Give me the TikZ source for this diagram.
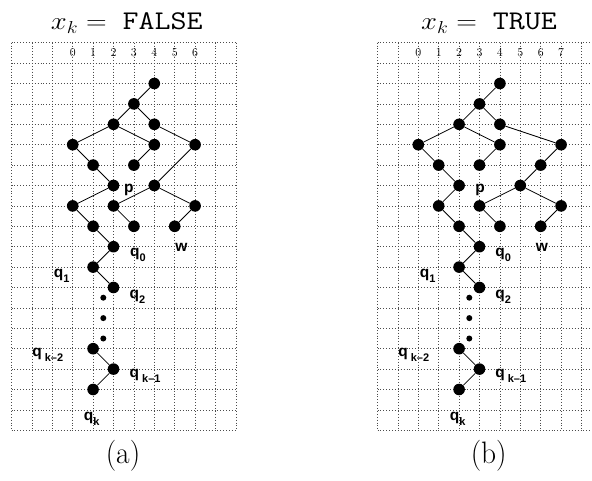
\documentclass[tikz,border=0pt]{standalone}
\usepackage{fontspec}
\newfontfamily\labfont{Liberation Sans}
\usetikzlibrary{calc}
\tikzset{
 vtx/.style={circle,fill=black,inner sep=0pt,minimum size=11.6pt},
 sdot/.style={circle,fill=black,inner sep=0pt,minimum size=6pt},
 conn/.style={line width=0.8pt},
 gridln/.style={line width=0.7pt, black!70, dash pattern=on 0.8pt off 2.1pt},
 lab/.style={inner sep=0pt, font=\labfont\bfseries\fontsize{15.5}{16}\selectfont},
 colnum/.style={inner sep=0pt, font=\fontsize{12}{12}\selectfont},
 ttl/.style={inner sep=0pt, anchor=base, font=\fontsize{27}{30}\selectfont},
 capt/.style={inner sep=0pt, anchor=base, font=\fontsize{31}{33}\selectfont},
}
\newcommand\sbs[1]{\raisebox{-5pt}{\fontsize{11}{11}\selectfont #1}}
\newcommand\lbl[4]{\node[lab,anchor=base west] at ($(#1)+(#2pt,-#3pt)$) {#4};}

\begin{document}
\begin{tikzpicture}[x=1pt,y=-1pt]
\path[use as bounding box] (0,0) rectangle (592,481);
\clip (0,0) rectangle (592,481);

% titles and captions
\node[ttl] (tA) at (126.7,29.3) {\scalebox{1.15}[1]{$x_k = \;\texttt{FALSE}$}};
\node[ttl] (tB) at (489,29.3) {\scalebox{1.15}[1]{$x_k = \;\texttt{TRUE}$}};
\node[capt] (cA) at (123,463.3) {\scalebox{0.95}[1]{(a)}};
\node[capt] (cB) at (488.7,463.3) {\scalebox{0.95}[1]{(b)}};

% ---------------- left panel
\begin{scope}[shift={(72.7pt,-42.7pt)}, x=20.4pt, y=-20.4pt]
\foreach \i in {-3,...,8} \draw[gridln] (\i,0) -- (\i,19);
\foreach \j in {0,...,19} \draw[gridln] (-3,\j) -- (8,\j);
\foreach \c in {0,...,6} \node[colnum] (Lc\c) at (\c,0.5) {\c};
\node[vtx] (L1) at (4,2) {};
\node[vtx] (L2) at (3,3) {};
\node[vtx] (L3) at (2,4) {};
\node[vtx] (L4) at (4,4) {};
\node[vtx] (L5) at (0,5) {};
\node[vtx] (L6) at (4,5) {};
\node[vtx] (L7) at (6,5) {};
\node[vtx] (L8) at (1,6) {};
\node[vtx] (L9) at (3,6) {};
\node[vtx] (Lp) at (2,7) {};
\node[vtx] (L11) at (4,7) {};
\node[vtx] (L12) at (0,8) {};
\node[vtx] (L13) at (2,8) {};
\node[vtx] (L14) at (6,8) {};
\node[vtx] (L15) at (1,9) {};
\node[vtx] (L16) at (3,9) {};
\node[vtx] (Lw) at (5,9) {};
\node[vtx] (Lq0) at (2,10) {};
\node[vtx] (Lq1) at (1,11) {};
\node[vtx] (Lq2) at (2,12) {};
\node[vtx] (Lqa) at (1,15) {};
\node[vtx] (Lqb) at (2,16) {};
\node[vtx] (Lqk) at (1,17) {};
\node[sdot] (Ld1) at (1.5,12.5) {};
\node[sdot] (Ld2) at (1.5,13.5) {};
\node[sdot] (Ld3) at (1.5,14.5) {};
\foreach \a/\b in {L1/L2,L2/L3,L2/L4,L3/L5,L3/L6,L4/L7,L6/L9,L5/L8,L8/Lp,L7/L11,Lp/L12,L11/L13,L11/L14,L12/L15,L15/Lq0,L13/L16,L14/Lw,Lq0/Lq1,Lq1/Lq2,Lqa/Lqb,Lqb/Lqk}
  \draw[conn] (\a) -- (\b);
\lbl{Lp}{10.5}{6.8}{p}
\lbl{Lq0}{16.5}{9.4}{q\sbs{0}}
\lbl{Lw}{0.5}{25}{w}
\lbl{Lq1}{-39.4}{10.3}{q\sbs{1}}
\lbl{Lq2}{16}{10.7}{q\sbs{2}}
\lbl{Lqa}{-61}{8}{q\hspace{3pt}\sbs{k\textendash2}}
\lbl{Lqb}{16}{8.7}{q\hspace{3pt}\sbs{k\textendash1}}
\lbl{Lqk}{-9.4}{30.7}{q\sbs{k}}
\end{scope}

% ---------------- right panel
\begin{scope}[shift={(418.3pt,-42.7pt)}, x=20.4pt, y=-20.4pt]
\foreach \i in {-2,...,9} \draw[gridln] (\i,0) -- (\i,19);
\foreach \j in {0,...,19} \draw[gridln] (-2,\j) -- (9,\j);
\foreach \c in {0,...,7} \node[colnum] (Rc\c) at (\c,0.5) {\c};
\node[vtx] (R1) at (4,2) {};
\node[vtx] (R2) at (3,3) {};
\node[vtx] (R3) at (2,4) {};
\node[vtx] (R4) at (4,4) {};
\node[vtx] (R5) at (0,5) {};
\node[vtx] (R6) at (4,5) {};
\node[vtx] (R7) at (7,5) {};
\node[vtx] (R8) at (1,6) {};
\node[vtx] (R9) at (3,6) {};
\node[vtx] (R10) at (6,6) {};
\node[vtx] (Rp) at (2,7) {};
\node[vtx] (R11) at (5,7) {};
\node[vtx] (R12) at (1,8) {};
\node[vtx] (R13) at (3,8) {};
\node[vtx] (R14) at (7,8) {};
\node[vtx] (R15) at (2,9) {};
\node[vtx] (R16) at (4,9) {};
\node[vtx] (Rw) at (6,9) {};
\node[vtx] (Rq0) at (3,10) {};
\node[vtx] (Rq1) at (2,11) {};
\node[vtx] (Rq2) at (3,12) {};
\node[vtx] (Rqa) at (2,15) {};
\node[vtx] (Rqb) at (3,16) {};
\node[vtx] (Rqk) at (2,17) {};
\node[sdot] (Rd1) at (2.5,12.5) {};
\node[sdot] (Rd2) at (2.5,13.5) {};
\node[sdot] (Rd3) at (2.5,14.5) {};
\foreach \a/\b in {R1/R2,R2/R3,R2/R4,R3/R5,R3/R6,R4/R7,R6/R9,R5/R8,R8/Rp,R7/R10,R10/R11,Rp/R12,R11/R13,R11/R14,R12/R15,R15/Rq0,R13/R16,R14/Rw,Rq0/Rq1,Rq1/Rq2,Rqa/Rqb,Rqb/Rqk}
  \draw[conn] (\a) -- (\b);
\lbl{Rp}{16}{6.8}{p}
\lbl{Rq0}{15.7}{9.4}{q\sbs{0}}
\lbl{Rw}{-5}{25}{w}
\lbl{Rq1}{-39.4}{10.3}{q\sbs{1}}
\lbl{Rq2}{15.7}{10.7}{q\sbs{2}}
\lbl{Rqa}{-61}{8}{q\hspace{3pt}\sbs{k\textendash2}}
\lbl{Rqb}{15.7}{8.7}{q\hspace{3pt}\sbs{k\textendash1}}
\lbl{Rqk}{-9.4}{30.7}{q\sbs{k}}
\end{scope}
\end{tikzpicture}
\end{document}
